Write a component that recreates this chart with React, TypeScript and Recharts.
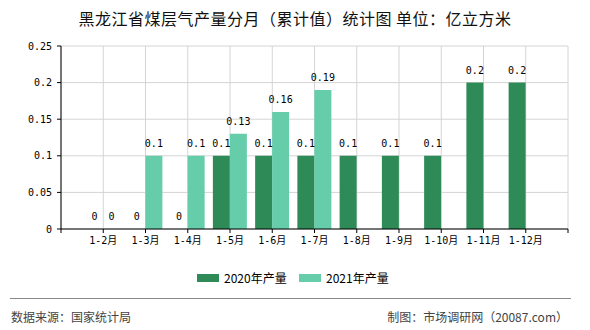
import React from "react";
import { BarChart, Bar, XAxis, YAxis, CartesianGrid, LabelList } from "recharts";

const categories = ["1-2月", "1-3月", "1-4月", "1-5月", "1-6月", "1-7月", "1-8月", "1-9月", "1-10月", "1-11月", "1-12月"];
const values2020 = [0, 0, 0, 0.1, 0.1, 0.1, 0.1, 0.1, 0.1, 0.2, 0.2];
const values2021: (number | null)[] = [0, 0.1, 0.1, 0.13, 0.16, 0.19, null, null, null, null, null];
const yTicks = [0, 0.05, 0.1, 0.15, 0.2, 0.25];
const seriesNames = ["2020年产量", "2021年产量"];
const colors = ["#2E8B57", "#66CDAA"];

const data = categories.map((c, i) => ({ x: i + 1, label: c, v2020: values2020[i], v2021: values2021[i] }));
const xTicks = Array.from({ length: categories.length + 2 }, (_, i) => i);
const xLabel = (v: number) => (v >= 1 && v <= categories.length ? categories[v - 1] : "");

const monoFont = "'DejaVu Sans Mono', 'Noto Sans CJK SC', monospace";
const cjkFont = "'Noto Sans CJK SC', 'DejaVu Sans', sans-serif";

const renderLabel = (props: any) => {
  const { x, y, width, value } = props;
  if (value === null || value === undefined) return null;
  return (
    <text x={Number(x) + Number(width) / 2} y={Number(y) - 9} textAnchor="middle" fill="#000" fontSize={10} fontFamily={monoFont}>
      {String(value)}
    </text>
  );
};

const zeroMin = (v: any) => (v === 0 ? 0.01 : 0);

export default function App() {
  return (
    <div style={{ position: "absolute", left: 0, top: 0, width: 590, height: 330, background: "#fff", overflow: "hidden" }}>
      <div
        style={{
          position: "absolute",
          top: 7,
          left: 0,
          width: 590,
          textAlign: "center",
          fontFamily: cjkFont,
          fontSize: 16,
          letterSpacing: 0.5,
          lineHeight: "22px",
          color: "#111",
        }}
      >
        黑龙江省煤层气产量分月（累计值）统计图 单位：亿立方米
      </div>
      <BarChart
        width={590}
        height={330}
        data={data}
        margin={{ top: 46, left: 0, right: 22, bottom: 71 }}
        barGap={0}
        style={{ position: "absolute", left: 0, top: 0 }}
      >
        <CartesianGrid stroke="#d4d4d4" strokeWidth={1} />
        <XAxis
          dataKey="x"
          type="number"
          domain={[0, categories.length + 1]}
          ticks={xTicks}
          interval={0}
          allowDecimals={false}
          tickFormatter={xLabel}
          height={30}
          tickSize={4}
          tickMargin={4}
          stroke="#000"
          tick={{ fill: "#000", fontSize: 10, fontFamily: monoFont }}
        />
        <YAxis
          domain={[0, 0.25]}
          ticks={yTicks}
          width={61}
          tickSize={4}
          tickMargin={5}
          stroke="#000"
          tick={{ fill: "#000", fontSize: 10, fontFamily: monoFont }}
        />
        <Bar dataKey="v2020" name={seriesNames[0]} fill={colors[0]} barSize={17} minPointSize={zeroMin} isAnimationActive={false}>
          <LabelList dataKey="v2020" content={renderLabel} />
        </Bar>
        <Bar dataKey="v2021" name={seriesNames[1]} fill={colors[1]} barSize={17} minPointSize={zeroMin} isAnimationActive={false}>
          <LabelList dataKey="v2021" content={renderLabel} />
        </Bar>
      </BarChart>
      <div style={{ position: "absolute", top: 268, left: 0, width: 590, height: 20, fontFamily: cjkFont, fontSize: 12, color: "#000" }}>
        {seriesNames.map((n, i) => (
          <div key={n} style={{ position: "absolute", left: i === 0 ? 197 : 299, top: 0, height: 20, display: "flex", alignItems: "center" }}>
            <span style={{ display: "inline-block", width: 22, height: 8, background: colors[i], marginRight: 5 }} />
            <span style={{ lineHeight: "20px" }}>{n}</span>
          </div>
        ))}
      </div>
      <div style={{ position: "absolute", top: 298, left: 10, width: 561, height: 1, background: "#888" }} />
      <div style={{ position: "absolute", top: 308, left: 11, fontFamily: cjkFont, fontSize: 12, lineHeight: "18px", color: "#444" }}>
        数据来源：国家统计局
      </div>
      <div style={{ position: "absolute", top: 308, right: 22, fontFamily: cjkFont, fontSize: 12, lineHeight: "18px", color: "#444", whiteSpace: "nowrap" }}>
        制图：市场调研网（20087.com）
      </div>
    </div>
  );
}
